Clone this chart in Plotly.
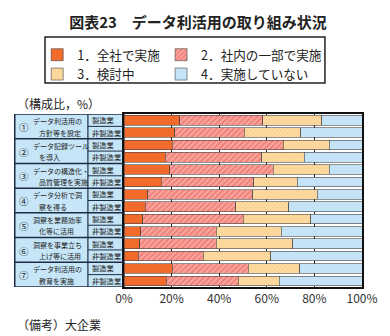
import plotly.graph_objects as go

title = "図表23　データ利活用の取り組み状況"
series_names = ["1．全社で実施", "2．社内の一部で実施", "3．検討中", "4．実施していない"]
items = [
    "データ利活用の<br>方針等を設定",
    "データ記録ツール<br>を導入",
    "データの構造化・<br>品質管理を実施",
    "データ分析で洞<br>察を得る",
    "洞察を業務効率<br>化等に活用",
    "洞察を事業立ち<br>上げ等に活用",
    "データ利活用の<br>教育を実施",
]
marks = ["①", "②", "③", "④", "⑤", "⑥", "⑦"]
sectors = ["製造業", "非製造業"]

s1 = [23.4, 21.4, 20.2, 17.3, 19.3, 15.7, 10.0, 9.0, 7.9, 7.0, 6.7, 5.9, 20.2, 17.7]
s2 = [34.9, 29.1, 46.7, 40.6, 43.5, 38.9, 44.1, 37.9, 42.2, 31.7, 32.0, 27.4, 32.0, 30.4]
s3 = [24.8, 23.8, 19.3, 17.8, 23.4, 18.1, 27.2, 22.4, 28.3, 27.4, 32.3, 28.3, 21.7, 17.2]
s4 = [16.9, 25.7, 13.8, 24.3, 13.8, 27.3, 18.7, 30.7, 21.6, 33.9, 29.0, 38.4, 26.1, 34.7]
x_ticks = [0, 20, 40, 60, 80, 100]

FONT = "Noto Sans CJK JP"
TXT = "#222222"
rows = list(range(len(items) * len(sectors)))

# pixel -> paper helpers (plot area: x 124..368, y 114..287)
def px(x):
    return (x - 124) / 244

def py(y):
    return (287 - y) / 173

fig = go.Figure()
styles = [
    dict(color="#f26b2b"),
    dict(color="#f7a49c", pattern=dict(shape="/", fgcolor="#e64540", size=4, solidity=0.35)),
    dict(color="#fddba4", pattern=dict(shape="x", fgcolor="#f4b257", size=3, solidity=0.3)),
    dict(color="#c4e3f7"),
]
legend_ids = ["legend", "legend2", "legend", "legend2"]
for name, vals, st, lg in zip(series_names, [s1, s2, s3, s4], styles, legend_ids):
    fig.add_trace(go.Bar(
        x=vals, y=rows, orientation="h", name=name, width=0.78, legend=lg,
        marker=dict(line=dict(color="#444444", width=0.6), **st),
    ))

# table on the left
XL = px(12)
XM = px(87)
shapes = [dict(type="rect", xref="paper", yref="y", x0=XL, x1=0, y0=-0.5, y1=len(rows) - 0.5,
               fillcolor="#c6e6f8", line=dict(color="#1c2c44", width=1.5), layer="below")]
shapes.append(dict(type="line", xref="paper", yref="y", x0=XM, x1=XM, y0=-0.5, y1=len(rows) - 0.5,
                   line=dict(color="#1c2c44", width=1.2)))
for g in range(len(items)):
    if g > 0:
        shapes.append(dict(type="line", xref="paper", yref="y", x0=XL, x1=0, y0=2 * g - 0.5, y1=2 * g - 0.5,
                           line=dict(color="#1c2c44", width=1.5)))
    shapes.append(dict(type="line", xref="paper", yref="y", x0=XM, x1=0, y0=2 * g + 0.5, y1=2 * g + 0.5,
                       line=dict(color="#1c2c44", width=1.0)))
# legend frame
shapes.append(dict(type="rect", xref="paper", yref="paper", x0=px(43), x1=px(330), y0=py(83), y1=py(37),
                   line=dict(color="#222222", width=1.5), fillcolor="rgba(0,0,0,0)"))

ann = []
for g, (m, lab) in enumerate(zip(marks, items)):
    yc = 2 * g + 0.5
    ann.append(dict(xref="paper", yref="y", x=px(21), y=yc + 0.05, text=m, showarrow=False,
                    xanchor="center", yanchor="middle", font=dict(size=9.5, color=TXT, family=FONT)))
    l1, l2 = lab.split("<br>")
    ann.append(dict(xref="paper", yref="y", x=px(29), y=yc - 0.42, text=l1, showarrow=False,
                    xanchor="left", yanchor="middle", font=dict(size=7, color=TXT, family=FONT)))
    ann.append(dict(xref="paper", yref="y", x=px(35), y=yc + 0.5, text=l2, showarrow=False,
                    xanchor="left", yanchor="middle", font=dict(size=7, color=TXT, family=FONT)))
    for k, sname in enumerate(sectors):
        ann.append(dict(xref="paper", yref="y", x=px(89), y=2 * g + k, text=sname, showarrow=False,
                        xanchor="left", yanchor="middle", font=dict(size=7.3, color=TXT, family=FONT)))

ann.append(dict(xref="paper", yref="paper", x=XL, y=py(103), text="（構成比，%）", showarrow=False,
                xanchor="left", yanchor="middle", font=dict(size=12, color=TXT, family=FONT)))
ann.append(dict(xref="paper", yref="paper", x=XL, y=py(324), text="（備考）大企業", showarrow=False,
                xanchor="left", yanchor="middle", font=dict(size=12, color=TXT, family=FONT)))

leg_common = dict(orientation="v", xanchor="left", yanchor="top", borderwidth=0, bgcolor="rgba(0,0,0,0)",
                  font=dict(size=12.6, color=TXT, family=FONT), itemwidth=30, traceorder="normal",
                  tracegroupgap=0)

fig.update_layout(
    width=390, height=336,
    margin=dict(l=124, r=22, t=114, b=49),
    paper_bgcolor="white", plot_bgcolor="white",
    barmode="stack",
    font=dict(family=FONT, color=TXT),
    title=dict(text="<b>" + title + "</b>", x=198 / 390, xanchor="center", xref="container",
               y=1 - 23 / 336, yanchor="middle", yref="container",
               font=dict(size=15, color=TXT, family=FONT)),
    legend=dict(x=px(35), y=py(40), **leg_common),
    legend2=dict(x=px(162), y=py(40), **leg_common),
    shapes=shapes, annotations=ann,
    xaxis=dict(range=[0, 100], tickvals=x_ticks, ticktext=[f"{v}%" for v in x_ticks],
               showgrid=True, gridcolor="#222222", gridwidth=1, zeroline=False,
               showline=True, linecolor="#111111", linewidth=2, mirror=True,
               tickfont=dict(size=12, color="#333333", family=FONT), ticks=""),
    yaxis=dict(range=[len(rows) - 0.5, -0.5], showticklabels=False, showgrid=False, zeroline=False,
               showline=True, linecolor="#111111", linewidth=2, mirror=True, ticks=""),
)
fig.write_html("out.html")
